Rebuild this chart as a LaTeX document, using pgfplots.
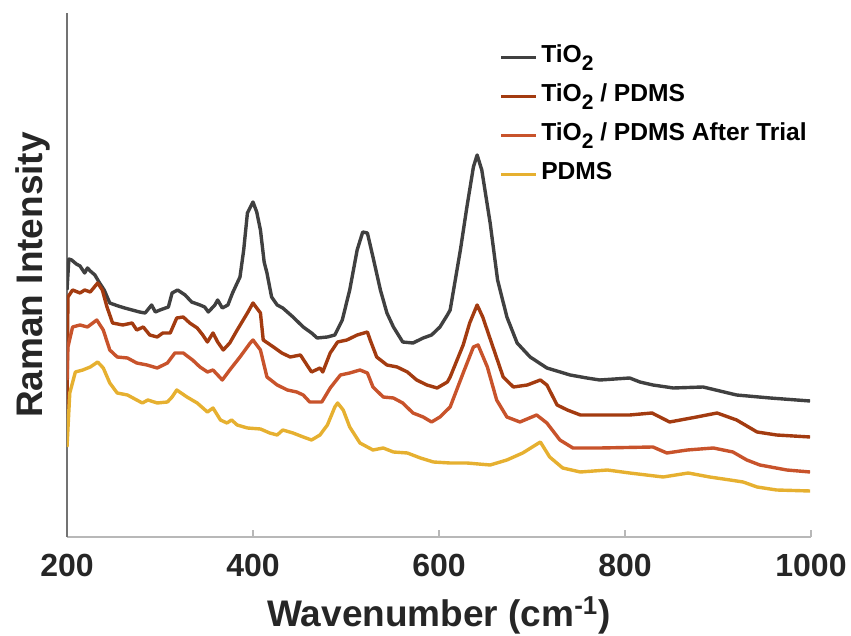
\documentclass[border=0pt]{standalone}
\usepackage{pgfplots}
\pgfplotsset{compat=1.18}
\usepackage{fontspec}
\setmainfont{Liberation Sans}
\definecolor{cTi}{HTML}{404040}
\definecolor{cTP}{HTML}{A33B10}
\definecolor{cTA}{HTML}{C8532B}
\definecolor{cPD}{HTML}{E6B030}
\definecolor{txt}{HTML}{262626}
\newcommand{\two}{\raisebox{-0.6ex}{\fontsize{10.5}{10}\selectfont 2}}
\begin{document}
\begin{tikzpicture}
\begin{axis}[
  scale only axis, width=372pt, height=262pt,
  xmin=200, xmax=1000, ymin=0, ymax=524,
  axis x line=bottom, axis y line=left,
  axis line style={-},
  x axis line style={black!28, line width=0.6pt},
  y axis line style={black!55, line width=0.6pt},
  xtick={200,400,600,800,1000}, ytick=\empty,
  tick align=inside, major tick length=3.5pt,
  tick style={black!28, line width=0.6pt},
  /pgf/number format/assume math mode=true,
  /pgf/number format/1000 sep={},
  xticklabel style={font=\fontsize{16}{18}\selectfont\bfseries, text=txt, yshift=-5pt},
  xlabel={Wavenumber (cm\textsuperscript{-1})},
  ylabel={Raman Intensity},
  ylabel shift=5pt, xlabel shift=3pt,
  label style={font=\fontsize{18.5}{21}\selectfont\bfseries, text=txt},
  legend style={draw=none, fill=none, at={(rel axis cs:0.573,0.955)}, anchor=north west,
    font=\fontsize{12.3}{14}\selectfont\bfseries, text=black,
    row sep=3pt, nodes={text height=9pt, text depth=3.5pt}},
  legend cell align=left,
  every axis plot/.append style={line width=1.7pt, line join=round},
]
\coordinate (O) at (rel axis cs:0,0);
\addplot[cTi] coordinates {
(200,247)(202,278)(205,277)(210,273)(214,271)(219,264)(222,269)(225,266)(230,262)(235,254)
(240,247)(246,234)(255,231)(262,229)(270,227)(278,225)(284,224)(291,232)(295,225)(300,227)
(309,230)(313,244)(319,247)(327,242)(334,235)(343,232)(348,230)(352,225)(359,232)(362,237)
(367,229)(373,232)(378,244)(386,260)(390,287)(394,324)(400,335)(404,325)(408,307)(412,275)
(415,264)(420,240)(426,232)(432,229)(443,220)(454,210)(463,204)(469,199)(480,200)(488,202)
(496,217)(504,247)(512,287)(518,305)(523,304)(529,280)(537,247)(544,224)(551,210)(561,195)
(572,194)(583,199)(592,202)(601,210)(609,222)(612,227)(623,287)(630,330)(637,370)(641,382)
(646,367)(655,314)(663,257)(673,220)(684,194)(698,180)(716,169)(741,162)(759,159)(773,157)
(805,159)(816,155)(830,152)(852,149)(884,150)(920,142)(956,139)(999,136)
};
\addlegendentry{TiO\two}
\addplot[cTP] coordinates {
(200,119)(201,240)(206,247)(214,244)(219,247)(225,245)(233,254)(238,247)(243,230)(249,214)
(260,212)(270,214)(275,207)(282,210)(289,202)(297,200)(303,204)(311,204)(318,219)(325,220)
(332,214)(340,209)(346,202)(351,195)(357,204)(362,195)(368,187)(375,194)(383,207)(394,224)
(400,234)(408,224)(411,197)(422,190)(431,184)(440,180)(451,182)(458,172)(463,165)(472,169)
(475,165)(483,184)(491,195)(501,197)(512,202)(523,205)(526,197)(533,180)(544,172)(555,170)
(566,165)(576,157)(587,152)(598,149)(609,155)(612,160)(626,192)(633,214)(641,232)(647,220)
(658,190)(669,160)(680,150)(695,152)(709,157)(716,152)(727,132)(738,127)(752,122)(781,122)
(805,122)(829,124)(848,115)(877,120)(899,124)(920,117)(942,105)(963,102)(999,100)
};
\addlegendentry{TiO\two{} / PDMS}
\addplot[cTA] coordinates {
(200,157)(201,190)(206,210)(214,212)(222,210)(232,217)(239,207)(246,187)(254,180)(265,179)
(275,174)(286,172)(297,169)(308,174)(316,184)(325,184)(335,177)(343,170)(351,165)(357,167)
(367,157)(375,167)(386,180)(397,194)(400,197)(408,187)(415,160)(426,152)(437,147)(447,145)
(454,142)(461,135)(474,135)(483,149)(494,162)(504,164)(515,167)(523,164)(529,150)(540,140)
(551,139)(561,134)(572,124)(583,120)(592,115)(601,120)(612,130)(626,164)(637,190)(642,192)
(652,170)(662,137)(673,120)(687,115)(705,122)(716,114)(730,97)(744,89)(773,89)(830,90)
(845,84)(867,87)(895,89)(916,85)(931,77)(945,72)(974,67)(999,65)
};
\addlegendentry{TiO\two{} / PDMS After Trial}
\addplot[cPD] coordinates {
(200,90)(203,144)(209,165)(217,167)(225,170)(233,175)(239,169)(246,154)(254,144)(265,142)
(275,137)(281,134)(287,137)(297,134)(308,135)(313,140)(318,147)(329,140)(340,134)(351,125)
(357,129)(365,117)(372,114)(377,117)(383,112)(394,109)(408,108)(418,104)(426,102)(432,107)
(443,104)(454,100)(463,97)(472,102)(480,112)(488,130)(491,134)(497,127)(504,110)(515,94)
(529,87)(540,89)(551,85)(566,84)(580,79)(594,75)(612,74)(630,74)(655,72)(673,77)
(690,84)(709,95)(719,80)(733,69)(752,65)(781,67)(805,64)(841,60)(868,64)(891,60)
(913,57)(927,55)(942,50)(963,47)(999,46)
};
\addlegendentry{PDMS}
\end{axis}
\pgfresetboundingbox
\path[use as bounding box] (O) ++(-33.5pt,-49.5pt) rectangle ++(425.5pt,318pt);
\end{tikzpicture}
\end{document}
